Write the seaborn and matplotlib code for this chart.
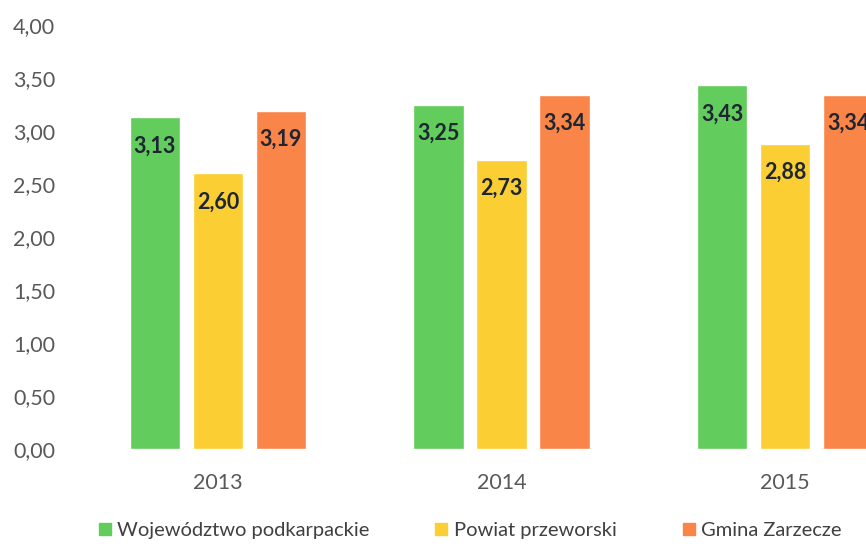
import matplotlib
matplotlib.use("Agg")
import matplotlib.pyplot as plt
import seaborn as sns
import pandas as pd
from matplotlib.lines import Line2D

years = ["2013", "2014", "2015"]
series = ["Województwo podkarpackie", "Powiat przeworski", "Gmina Zarzecze"]
woj = [3.13, 3.25, 3.43]
powiat = [2.60, 2.73, 2.88]
gmina = [3.19, 3.34, 3.34]
yticks = [0.0, 0.5, 1.0, 1.5, 2.0, 2.5, 3.0, 3.5, 4.0]
colors = ["#62cc5c", "#fbcf33", "#fa8548"]

rows = []
for s, vals in zip(series, [woj, powiat, gmina]):
    for y, v in zip(years, vals):
        rows.append({"Rok": y, "Seria": s, "Wartość": v})
df = pd.DataFrame(rows)

sns.set_style("white")
plt.rcParams["font.family"] = ["Lato", "DejaVu Sans"]

W, H = 866, 544
fig = plt.figure(figsize=(W / 100, H / 100), dpi=100)
left, right = 76, 927
bottom, top = 449, 25
ax = fig.add_axes([left / W, (H - bottom) / H, (right - left) / W, (bottom - top) / H])

sns.barplot(data=df, x="Rok", y="Wartość", hue="Seria", order=years, hue_order=series,
            palette=colors, width=0.666, gap=0.2, ax=ax, legend=False, saturation=1)

ax.set_xlim(-0.5, 2.5)
ax.set_ylim(0, 4)
ax.set_yticks(yticks)
ax.set_yticklabels([f"{t:.2f}".replace(".", ",") for t in yticks])
ax.set_xlabel("")
ax.set_ylabel("")
for sp in ax.spines.values():
    sp.set_visible(False)
ax.tick_params(axis="y", length=0, pad=15, labelsize=15.5, labelcolor="#595959")
ax.tick_params(axis="x", length=0, pad=17, labelsize=15.5, labelcolor="#595959")
ax.grid(False)

for cont in ax.containers:
    for bar in cont:
        h = bar.get_height()
        ax.annotate(f"{h:.2f}".replace(".", ","),
                    (bar.get_x() + bar.get_width() / 2, h),
                    xytext=(0, -13), textcoords="offset points",
                    ha="center", va="top", fontsize=15.5, fontweight="bold",
                    color="#1e2633", annotation_clip=False)

handles = [Line2D([0], [0], marker="s", linestyle="", markersize=8,
                  markerfacecolor=c, markeredgecolor=c) for c in colors]
fig.legend(handles, series, loc="center", bbox_to_anchor=(468 / W, (H - 530) / H),
           ncol=3, frameon=False, fontsize=14.5, labelcolor="#404040",
           handletextpad=0.1, columnspacing=3.1, handlelength=1.0)

fig.savefig("out.png", dpi=100)
